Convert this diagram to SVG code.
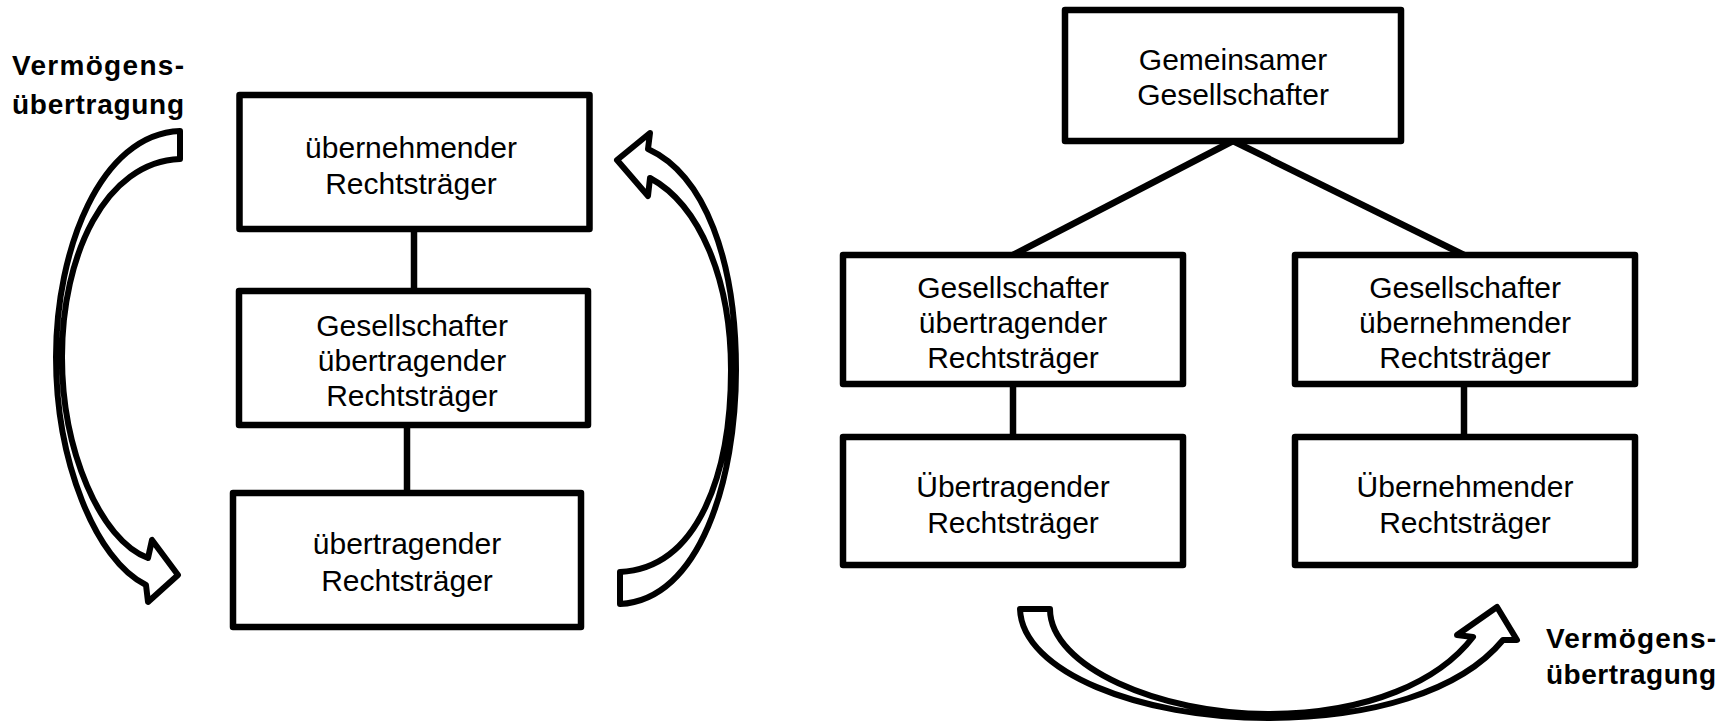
<svg xmlns="http://www.w3.org/2000/svg" width="1732" height="721" viewBox="0 0 1732 721">
<style>
.box{fill:#fff;stroke:#000;stroke-width:6.5;stroke-linejoin:round}
.conn{stroke:#000;stroke-width:6.5;fill:none}
.arr{fill:#fff;stroke:#000;stroke-width:6;stroke-linejoin:round}
.t{font-family:"Liberation Sans",Arial,sans-serif;font-size:30px;fill:#000;text-anchor:middle}
.lbl{font-family:"Liberation Sans",Arial,sans-serif;font-size:28px;font-weight:bold;fill:#000}
</style>
<rect width="1732" height="721" fill="#fff"/>
<g id="connectors">
<line class="conn" x1="414" y1="229" x2="414" y2="291"/>
<line class="conn" x1="407" y1="425" x2="407" y2="493"/>
<line class="conn" x1="1233" y1="141" x2="1013" y2="255"/>
<line class="conn" x1="1233" y1="141" x2="1464" y2="255"/>
<line class="conn" x1="1013" y1="384" x2="1013" y2="437"/>
<line class="conn" x1="1464" y1="384" x2="1464" y2="437"/>
</g>
<g id="n1"><rect class="box" x="239.5" y="95" width="350" height="134"/>
<text class="t" x="411" y="158">übernehmender</text><text class="t" x="411" y="194">Rechtsträger</text></g>
<g id="n2"><rect class="box" x="239" y="291" width="349" height="134"/>
<text class="t" x="412" y="336">Gesellschafter</text><text class="t" x="412" y="371">übertragender</text><text class="t" x="412" y="406">Rechtsträger</text></g>
<g id="n3"><rect class="box" x="233" y="493" width="348" height="134"/>
<text class="t" x="407" y="554">übertragender</text><text class="t" x="407" y="591">Rechtsträger</text></g>
<g id="n4"><rect class="box" x="1065" y="10" width="336" height="131"/>
<text class="t" x="1233" y="70">Gemeinsamer</text><text class="t" x="1233" y="105">Gesellschafter</text></g>
<g id="n5"><rect class="box" x="843" y="255" width="340" height="129"/>
<text class="t" x="1013" y="298">Gesellschafter</text><text class="t" x="1013" y="333">übertragender</text><text class="t" x="1013" y="368">Rechtsträger</text></g>
<g id="n6"><rect class="box" x="1295" y="255" width="340" height="129"/>
<text class="t" x="1465" y="298">Gesellschafter</text><text class="t" x="1465" y="333">übernehmender</text><text class="t" x="1465" y="368">Rechtsträger</text></g>
<g id="n7"><rect class="box" x="843" y="437" width="340" height="128"/>
<text class="t" x="1013" y="497">Übertragender</text><text class="t" x="1013" y="533">Rechtsträger</text></g>
<g id="n8"><rect class="box" x="1295" y="437" width="340" height="128"/>
<text class="t" x="1465" y="497">Übernehmender</text><text class="t" x="1465" y="533">Rechtsträger</text></g>
<g id="arrow-left">
<path class="arr" d="M180,131 C100,134 56,250 56,357 C56,460 95,560 146,585 L148,602 L178,575 L152,540 L148,558 C100,540 62,450 62,357 C62,255 105,162 180,159 Z"/>
</g>
<g id="arrow-right">
<path class="arr" d="M620,604 C700,600 736,480 736,370 C736,260 705,175 648,149 L650,133 L617,160 L648,196 L650,178 C700,205 731,280 731,370 C731,470 700,568 620,572 Z"/>
</g>
<g id="arrow-bottom">
<path class="arr" d="M1020,609 L1050,609 C1050,667 1160,714 1268,714 C1370,714 1440,680 1473,637 L1457,635 L1497,607 L1517,640 L1503,640 C1460,692 1370,718 1268,718 C1140,718 1022,672 1020,609 Z"/>
</g>
<g id="label-left">
<text class="lbl" x="12" y="75" textLength="172" lengthAdjust="spacing">Vermögens-</text>
<text class="lbl" x="12" y="114" textLength="172" lengthAdjust="spacing">übertragung</text>
</g>
<g id="label-right">
<text class="lbl" x="1546" y="648" textLength="170" lengthAdjust="spacing">Vermögens-</text>
<text class="lbl" x="1546" y="684" textLength="170" lengthAdjust="spacing">übertragung</text>
</g>
</svg>
